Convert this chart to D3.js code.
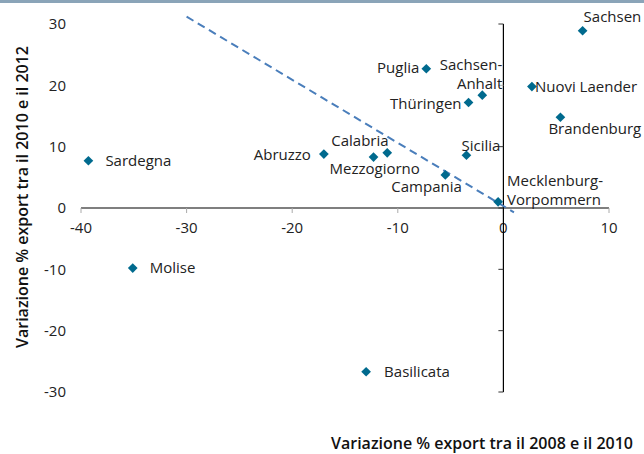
<!DOCTYPE html>
<html>
<head>
<meta charset="utf-8">
<script src="https://cdn.jsdelivr.net/npm/d3@7"></script>
<style>
  body { margin: 0; background: #fff; }
  svg { display: block; font-family: "Open Sans", "Noto Sans", sans-serif; }
</style>
</head>
<body>
<div id="chart"></div>
<script>
// regions and their export changes (% 2008-2010, % 2010-2012)
var regions = ["Sachsen", "Nuovi Laender", "Brandenburg", "Mecklenburg-Vorpommern", "Puglia",
    "Sachsen-Anhalt", "Thüringen", "Abruzzo", "Mezzogiorno", "Calabria", "Sicilia",
    "Campania", "Sardegna", "Molise", "Basilicata"];
var change0810 = [7.5, 2.7, 5.4, -0.5, -7.3, -2.0, -3.3, -17.0, -12.3, -11.0, -3.5, -5.5, -39.3, -35.1, -13.0];
var change1012 = [28.9, 19.8, 14.8, 1.0, 22.7, 18.4, 17.2, 8.8, 8.3, 9.0, 8.6, 5.4, 7.7, -9.8, -26.7];

var xTicks = [-40, -30, -20, -10, 0, 10];
var yTicks = [-30, -20, -10, 0, 10, 20, 30];

// dashed trend line end points
var trendX = [-30, 1];
var trendY = [31.2, -0.7];

var xTitle = "Variazione % export tra il 2008 e il 2010";
var yTitle = "Variazione % export tra  il 2010 e il 2012";

// label placement: dx, dy from the marker, anchor
var labelPos = {
    "Sachsen": [1, -9, "start"],
    "Nuovi Laender": [3, 5, "start"],
    "Brandenburg": [-12, 17, "start"],
    "Mecklenburg-Vorpommern": [9, -16, "start"],
    "Puglia": [-7, 4, "end"],
    "Sachsen-Anhalt": [20, -25, "end"],
    "Thüringen": [-7, 6, "end"],
    "Abruzzo": [-13, 6, "end"],
    "Mezzogiorno": [-44, 17, "start"],
    "Calabria": [-56, -7, "start"],
    "Sicilia": [-5, -4, "start"],
    "Campania": [-54, 17, "start"],
    "Sardegna": [17, 5, "start"],
    "Molise": [17, 5, "start"],
    "Basilicata": [18, 5, "start"]
};
var labelLines = {
    "Mecklenburg-Vorpommern": ["Mecklenburg-", "Vorpommern"],
    "Sachsen-Anhalt": ["Sachsen-", "Anhalt"]
};

var width = 644, height = 454;

var svg = d3.select("#chart").append("svg")
    .attr("width", width)
    .attr("height", height);

// top band
svg.append("rect")
    .attr("x", 0).attr("y", 0)
    .attr("width", width).attr("height", 3)
    .attr("fill", "#8aa4b8");

var x = d3.scaleLinear().domain([-40, 10]).range([81, 609]);
var y = d3.scaleLinear().domain([-30, 30]).range([392, 24]);

// x axis line at y=0
svg.append("line")
    .attr("x1", x(-40)).attr("x2", x(10))
    .attr("y1", y(0)).attr("y2", y(0))
    .attr("stroke", "#000").attr("stroke-width", 1.2);

svg.selectAll(".xtick").data(xTicks).enter().append("line")
    .attr("x1", function(d){ return x(d); })
    .attr("x2", function(d){ return x(d); })
    .attr("y1", y(0)).attr("y2", y(0) + 5)
    .attr("stroke", "#aaa");

svg.selectAll(".xlab").data(xTicks).enter().append("text")
    .attr("x", function(d){ return x(d); })
    .attr("y", y(0) + 25)
    .attr("text-anchor", "middle")
    .attr("font-size", 15)
    .attr("fill", "#222")
    .text(function(d){ return d; });

// y axis line at x=0
svg.append("line")
    .attr("x1", x(0)).attr("x2", x(0))
    .attr("y1", y(30)).attr("y2", y(-30))
    .attr("stroke", "#000").attr("stroke-width", 1.2);

svg.selectAll(".ytick").data(yTicks).enter().append("line")
    .attr("x1", x(0) - 5).attr("x2", x(0))
    .attr("y1", function(d){ return y(d); })
    .attr("y2", function(d){ return y(d); })
    .attr("stroke", function(d){ return d === 20 ? "#aaa" : "#333"; });

svg.selectAll(".ylab").data(yTicks).enter().append("text")
    .attr("x", 66)
    .attr("y", function(d){ return y(d); })
    .attr("dy", "0.35em")
    .attr("text-anchor", "end")
    .attr("font-size", 15)
    .attr("fill", "#222")
    .text(function(d){ return d; });

// trend line
svg.append("line")
    .attr("x1", x(trendX[0])).attr("y1", y(trendY[0]))
    .attr("x2", x(trendX[1])).attr("y2", y(trendY[1]))
    .attr("stroke", "#4a7ebb")
    .attr("stroke-width", 2)
    .attr("stroke-dasharray", "8,5");

var points = regions.map(function(r, i){
    return {name: r, x: change0810[i], y: change1012[i]};
});

var diamond = d3.symbol().type(d3.symbolDiamond2).size(60);

svg.selectAll(".pt").data(points).enter().append("path")
    .attr("d", diamond)
    .attr("transform", function(d){ return "translate(" + x(d.x) + "," + y(d.y) + ")"; })
    .attr("fill", "#006a8e");

var labels = svg.selectAll(".lab").data(points).enter().append("text")
    .attr("x", function(d){ return x(d.x) + labelPos[d.name][0]; })
    .attr("y", function(d){ return y(d.y) + labelPos[d.name][1]; })
    .attr("text-anchor", function(d){ return labelPos[d.name][2]; })
    .attr("font-size", 15)
    .attr("fill", "#222");

labels.each(function(d){
    var lines = labelLines[d.name] || [d.name];
    var t = d3.select(this);
    lines.forEach(function(l, i){
        t.append("tspan")
            .attr("x", x(d.x) + labelPos[d.name][0])
            .attr("dy", i === 0 ? 0 : 19)
            .text(l);
    });
});

// axis titles
svg.append("text")
    .attr("transform", "translate(28," + 197 + ") rotate(-90)")
    .attr("text-anchor", "middle")
    .attr("font-size", 16)
    .attr("font-weight", 600)
    .attr("fill", "#111")
    .text(yTitle);

svg.append("text")
    .attr("x", 633)
    .attr("y", 449)
    .attr("text-anchor", "end")
    .attr("font-size", 16)
    .attr("font-weight", 600)
    .attr("fill", "#111")
    .text(xTitle);
</script>
</body>
</html>
